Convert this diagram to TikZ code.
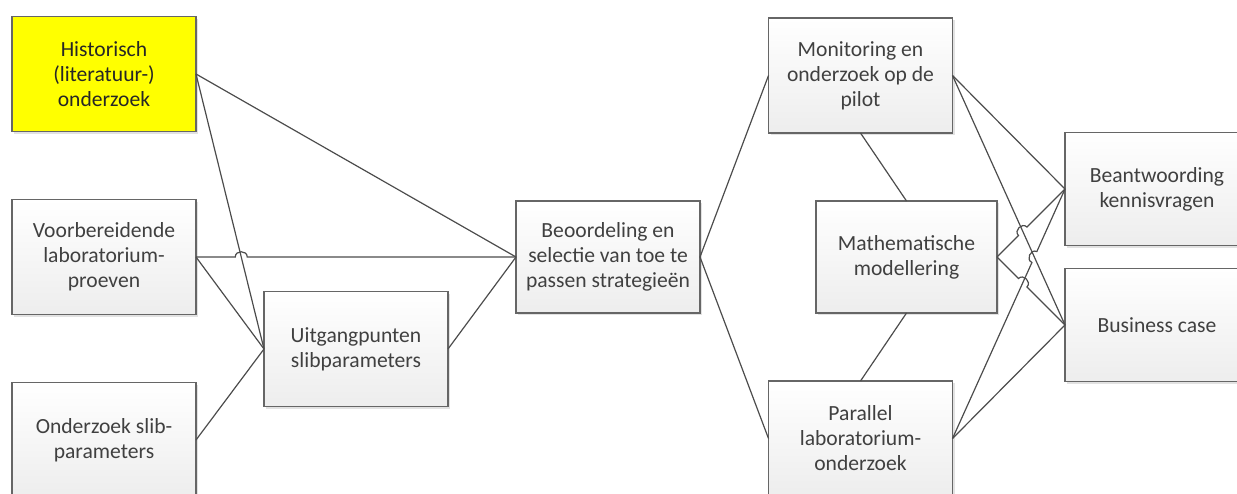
\documentclass[tikz,border=0pt]{standalone}
\usepackage{fontspec}
\setmainfont{Carlito}
\usepackage{tikz}
\usetikzlibrary{positioning,calc,shadows}

% line from #1 to #2 that hops over the line from #3 to #4
\newcommand{\hopline}[4]{%
  \coordinate (hx) at (intersection of #1--#2 and #3--#4);
  \draw[link] (#1) -- ($(hx)!3pt!(#1)$)
    .. controls ($($(hx)!3pt!(#1)$)!3.5pt!90:(hx)$) and ($($(hx)!3pt!(#2)$)!3.5pt!-90:(hx)$)
    .. ($(hx)!3pt!(#2)$) -- (#2);
}

\begin{document}
\begin{tikzpicture}[
    x=0.5pt, y=-0.5pt,
    node distance=34pt and 34pt,
    font=\fontsize{10.8}{12.5}\selectfont,
    box/.style={draw=gray!80!black, line width=0.7pt, outer sep=0pt, align=center, text=black!75,
      minimum width=92pt, minimum height=57.5pt, top color=white, bottom color=gray!14,
      drop shadow={shadow xshift=1pt, shadow yshift=-1pt, fill=gray!45}},
    yellowbox/.style={box, top color=yellow, bottom color=yellow, fill=yellow, text=black!85},
    link/.style={draw=black!70, line width=0.6pt}
  ]
    \useasboundingbox (0,0) rectangle (1237,493);

    \node[yellowbox] (hist) at (104,74) {Historisch\\(literatuur-)\\onderzoek};
    \node[box, below=of hist] (voor) {Voorbereidende\\laboratorium-\\proeven};
    \node[box, below=of voor] (onder) {Onderzoek slib-\\parameters};
    \node[box, right=of voor, yshift=-46pt] (uitg) {Uitgangpunten\\slibparameters};
    \node[box, right=of uitg, yshift=46pt, minimum height=56pt] (beoo) {Beoordeling en\\selectie van toe te\\passen strategieën};
    \node[box, right=58pt of beoo, minimum width=90.5pt, minimum height=56pt] (math) {Mathematische\\modellering};
    \node[box, above=of math, xshift=-23pt] (moni) {Monitoring en\\onderzoek op de\\pilot};
    \node[box, below=of math, xshift=-23pt] (para) {Parallel\\laboratorium-\\onderzoek};
    \node[box, right=of math, yshift=34pt, minimum height=56.5pt] (bean) {Beantwoording\\kennisvragen};
    \node[box, right=of math, yshift=-34pt, minimum height=56.5pt] (bus) {Business case};

    \draw[link] (hist.east) -- (beoo.west);
    \draw[link] (hist.east) -- (uitg.west);
    \hopline{voor.east}{beoo.west}{hist.east}{uitg.west}
    \draw[link] (voor.east) -- (uitg.west);
    \draw[link] (onder.east) -- (uitg.west);
    \draw[link] (uitg.east) -- (beoo.west);
    \draw[link] (beoo.east) -- (moni.west);
    \draw[link] (beoo.east) -- (para.west);
    \draw[link] (moni.south) -- (math.north);
    \draw[link] (math.south) -- (para.north);
    \draw[link] (moni.east) -- (bean.west);
    \draw[link] (moni.east) -- (bus.west);
    \hopline{para.east}{bean.west}{moni.east}{bus.west}
    \draw[link] (para.east) -- (bus.west);
    \hopline{math.east}{bean.west}{moni.east}{bus.west}
    \hopline{math.east}{bus.west}{para.east}{bean.west}
  \end{tikzpicture}
\end{document}
